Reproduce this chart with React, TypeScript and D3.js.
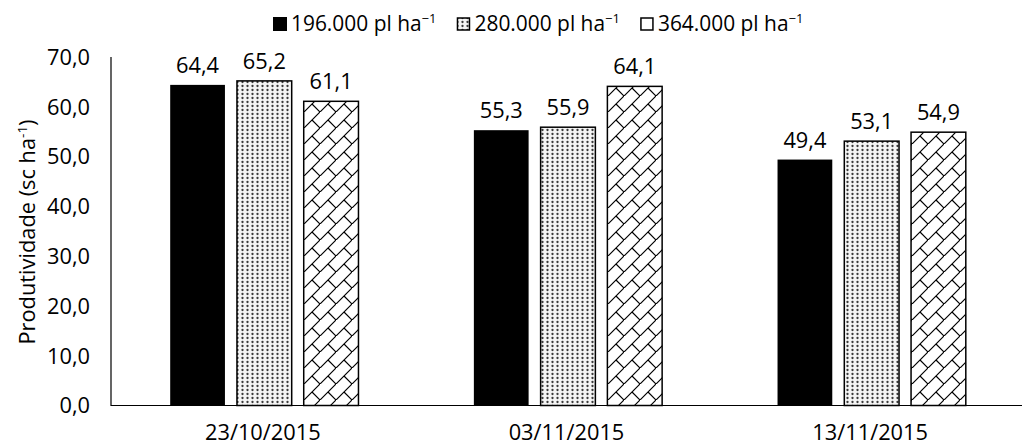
import { useEffect, useRef } from "react";
import * as d3 from "d3";

const categories = ["23/10/2015", "03/11/2015", "13/11/2015"];
const series = ["196.000", "280.000", "364.000"];
const values: number[][] = [
  [64.4, 55.3, 49.4],
  [65.2, 55.9, 53.1],
  [61.1, 64.1, 54.9],
];
const yTicks = [0, 10, 20, 30, 40, 50, 60, 70];
const fills = ["#000", "url(#dots)", "url(#brick)"];
const legendFills = ["#000", "url(#dots)", "#fff"];

const W = 1024;
const H = 448;
const FONT = "'Open Sans', sans-serif";
const FS = 21.8;
const fmt = (v: number) => v.toFixed(1).replace(".", ",");

export default function App() {
  const ref = useRef<SVGSVGElement>(null);

  useEffect(() => {
    const svg = d3.select(ref.current);
    svg.selectAll("*").remove();

    const m = { left: 111, right: 2, top: 57, bottom: 42.5 };
    const x = d3.scaleBand().domain(categories).range([m.left, W - m.right]);
    const inner = d3
      .scaleBand()
      .domain(series)
      .range([0, x.bandwidth() * 0.62])
      .paddingInner(0.18);
    const groupOff = (x.bandwidth() - x.bandwidth() * 0.62) / 2 + 1.5;
    const y = d3.scaleLinear().domain([0, 70]).range([H - m.bottom, m.top]);

    const defs = svg.append("defs");
    const dots = defs
      .append("pattern")
      .attr("id", "dots")
      .attr("patternUnits", "userSpaceOnUse")
      .attr("width", 5)
      .attr("height", 4);
    dots.append("rect").attr("width", 5).attr("height", 4).attr("fill", "#f4f4f4");
    dots.append("circle").attr("cx", 2.5).attr("cy", 2).attr("r", 1.15).attr("fill", "#3a3a3a");

    const brick = defs
      .append("pattern")
      .attr("id", "brick")
      .attr("patternUnits", "userSpaceOnUse")
      .attr("width", 16)
      .attr("height", 16);
    brick.append("rect").attr("width", 16).attr("height", 16).attr("fill", "#fff");
    brick
      .append("path")
      .attr("d", "M-2,18L18,-2M8,8L16,16")
      .attr("stroke", "#000")
      .attr("stroke-width", 1.2)
      .attr("fill", "none");

    // y axis labels
    svg
      .append("g")
      .selectAll("text")
      .data(yTicks)
      .join("text")
      .attr("x", 90)
      .attr("y", (d) => y(d))
      .attr("dy", "0.36em")
      .attr("text-anchor", "end")
      .attr("font-family", FONT)
      .attr("font-size", FS)
      .attr("fill", "#000")
      .text(fmt);

    // bars
    series.forEach((s, i) => {
      const g = svg.append("g");
      g.selectAll("rect")
        .data(values[i])
        .join("rect")
        .attr("x", (_, j) => x(categories[j])! + groupOff + inner(s)!)
        .attr("y", (d) => y(d))
        .attr("width", inner.bandwidth())
        .attr("height", (d) => y(0) - y(d))
        .attr("fill", fills[i])
        .attr("stroke", "#000")
        .attr("stroke-width", i === 0 ? 0 : 1.5);
      g.selectAll("text")
        .data(values[i])
        .join("text")
        .attr("x", (_, j) => x(categories[j])! + groupOff + inner(s)! + inner.bandwidth() / 2)
        .attr("y", (d) => y(d) - 12)
        .attr("text-anchor", "middle")
        .attr("font-family", FONT)
        .attr("font-size", FS)
        .text(fmt);
    });

    // axes lines
    svg
      .append("path")
      .attr("d", `M${m.left},${m.top}V${y(0)}H${W - m.right}`)
      .attr("fill", "none")
      .attr("stroke", "#000")
      .attr("stroke-width", 1.2);

    // category labels
    svg
      .append("g")
      .selectAll("text")
      .data(categories)
      .join("text")
      .attr("x", (d) => x(d)! + x.bandwidth() / 2)
      .attr("y", H - 8)
      .attr("text-anchor", "middle")
      .attr("font-family", FONT)
      .attr("font-size", FS)
      .text((d) => d);

    // y title
    const yt = svg
      .append("text")
      .attr("transform", `translate(35,${232}) rotate(-90)`)
      .attr("text-anchor", "middle")
      .attr("font-family", FONT)
      .attr("font-size", FS);
    yt.append("tspan").text("Produtividade (sc ha");
    yt.append("tspan").attr("font-size", 13.5).attr("dy", -8).text("-1");
    yt.append("tspan").attr("dy", 8).text(")");

    // legend
    const leg = svg.append("g");
    let lx = 273;
    series.forEach((s, i) => {
      leg
        .append("rect")
        .attr("x", lx + (i === 0 ? 0 : 1))
        .attr("y", 17 + (i === 0 ? 0 : 1))
        .attr("width", i === 0 ? 14 : 12)
        .attr("height", i === 0 ? 14 : 12)
        .attr("fill", legendFills[i])
        .attr("stroke", "#000")
        .attr("stroke-width", i === 0 ? 0 : 1.5);
      const t = leg
        .append("text")
        .attr("x", lx + 18)
        .attr("y", 31)
        .attr("font-family", FONT)
        .attr("font-size", FS * 0.96);
      t.append("tspan").text(`${s} pl ha`);
      t.append("tspan").attr("font-size", 13).attr("dy", -8).text("\u22121");
      const w = (t.node() as SVGTextElement).getComputedTextLength();
      lx += 18 + w + 20;
    });
  }, []);

  return (
    <svg
      ref={ref}
      width={W}
      height={H}
      viewBox={`0 0 ${W} ${H}`}
      style={{ display: "block", position: "absolute", left: 0, top: 0, background: "#fff" }}
    />
  );
}
